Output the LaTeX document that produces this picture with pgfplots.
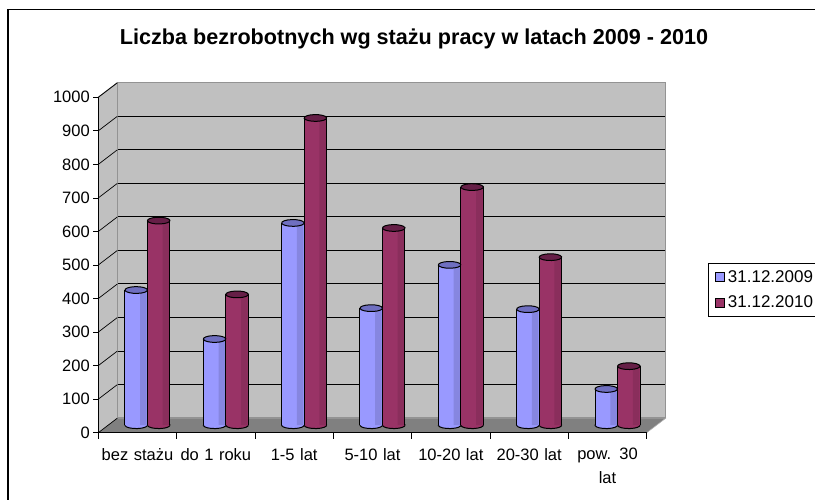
\documentclass[border=0pt]{standalone}
\usepackage{fontspec}
\setmainfont{Liberation Sans}
\usepackage{pgfplots}
\usepackage{pgfplotstable}
\pgfplotsset{compat=1.18}

\definecolor{wall}{HTML}{C0C0C0}
\definecolor{floorc}{HTML}{808080}
\definecolor{barblue}{HTML}{9999FF}
\definecolor{stripblue}{HTML}{8686E0}
\definecolor{barred}{HTML}{993366}
\definecolor{stripred}{HTML}{8A2E5C}
\definecolor{topblue}{HTML}{6F6FC0}
\definecolor{topred}{HTML}{661F47}

\pgfplotstableread{
x    y2009 y2010
0.5  403   610
1.5  257   390
2.5  603   916
3.5  349   588
4.5  478   710
5.5  346   501
6.5  108   176
}\bars

\tikzset{capshape/.style={draw=black, yscale=0.3, rotate=6, line width=1pt}}

\pgfplotsset{
  plane/.style={
    anchor=south west, scale only axis,
    width=548.4pt, height=335.4pt,
    xmin=0, xmax=7, ymin=0, ymax=1000,
  },
  depth/.style={forget plot, xshift=10pt, yshift=7.5pt},
  cyl/.style={depth, ybar, bar width=#1, draw=none},
  side/.style={depth, ycomb, no marks, draw=black, line width=1pt},
  cap/.style={depth, only marks, mark=*, mark size=11.25pt},
}

\begin{document}
\begin{tikzpicture}[x=1pt, y=1pt]
\useasboundingbox (0,0) rectangle (815,500);
\clip (0,0) rectangle (815,500);

% outer frame, runs off the right and bottom
\draw[black, line width=1.2pt] (8,-5) -- (8,490.5) -- (820,490.5);

\node[font=\bfseries\fontsize{21.6}{24}\selectfont] at (414,461.5) {Liczba bezrobotnych wg stażu pracy w latach 2009 - 2010};

% side wall and floor
\fill[wall] (98.3,67.3) -- (117.3,82) -- (117.3,417.2) -- (98.3,402.7) -- cycle;
\fill[floorc] (98.3,67.3) -- (117.3,82) -- (666,82) -- (646.7,67.3) -- cycle;

% back wall
\begin{axis}[plane, at={(117.3pt,82pt)},
    axis background/.style={fill=wall},
    axis line style={draw=floorc!85!white, line width=1.2pt},
    xtick=\empty, ytick={100,200,...,900}, yticklabels={},
    major tick length=0pt,
    ymajorgrids, grid style={black, line width=0.7pt},
]
\end{axis}

\draw[floorc, line width=1pt] (98.3,402.7) -- (117.3,417.2);
\draw[white!70!black, line width=0.6pt] (646.7,67.3) -- (666,82);

% rounded feet of the cylinders, behind the front plane
\begin{axis}[plane, at={(98.3pt,67.3pt)}, hide axis, clip=false]
\addplot[cap, xshift=-11.25pt, mark options={capshape, fill=barblue}] table[x=x, y expr=0] {\bars};
\addplot[cap, xshift=11.25pt, mark options={capshape, fill=barred}] table[x=x, y expr=0] {\bars};
\end{axis}

% front plane: axes, labels and bars
\begin{axis}[plane, at={(98.3pt,67.3pt)},
    clip=false,
    axis x line*=bottom, axis y line*=left,
    axis line style={line width=1pt, -},
    ytick={0,100,...,1000},
    xtick={0.5,1.5,...,6.5},
    xticklabels={bez stażu, do 1 roku, 1-5 lat, 5-10 lat, 10-20 lat, 20-30 lat, pow. 30\\lat},
    minor xtick={0,1,...,7},
    major x tick style={draw=none},
    minor tick length=6pt,
    minor x tick style={black, line width=0.7pt},
    major y tick style={black, line width=0.7pt},
    major tick length=5pt,
    tick align=outside,
    /pgf/number format/assume math mode=true,
    /pgf/number format/1000 sep={},
    tick label style={font=\fontsize{16.5}{24}\selectfont},
    xticklabel style={align=center, text width=78pt, yshift=-7pt},
    legend style={at={(1.111,0.506)}, anchor=north west, draw=black, line width=0.8pt,
      font=\fontsize{17}{20}\selectfont, inner xsep=3pt, inner ysep=5pt, row sep=8pt, cells={anchor=west},
      legend cell align=left},
]
% diagonals from the y ticks to the back wall
\pgfplotsinvokeforeach{0,100,...,1000}{
  \draw[black, line width=0.7pt] (axis cs:0,#1) -- ++(19pt,14.5pt);
}

\addplot[cyl=22.5pt, bar shift=-11.25pt, fill=barblue] table[x=x, y=y2009] {\bars};
\addplot[cyl=6.5pt, bar shift=-4pt, fill=stripblue] table[x=x, y=y2009] {\bars};
\addplot[side, xshift=-22.5pt] table[x=x, y=y2009] {\bars};
\addplot[cyl=22.5pt, bar shift=11.25pt, fill=barred] table[x=x, y=y2010] {\bars};
\addplot[cyl=6.5pt, bar shift=18.5pt, fill=stripred] table[x=x, y=y2010] {\bars};
\addplot[side] table[x=x, y=y2009] {\bars};
\addplot[side] table[x=x, y=y2010] {\bars};
\addplot[side, xshift=22.5pt] table[x=x, y=y2010] {\bars};
\addplot[cap, xshift=-11.25pt, mark options={capshape, fill=topblue}] table[x=x, y=y2009] {\bars};
\addplot[cap, xshift=11.25pt, mark options={capshape, fill=topred}] table[x=x, y=y2010] {\bars};

\addlegendimage{legend image code/.code={\path[draw=none] (-4pt,0) -- (11pt,0); \draw[draw=black, fill=barblue, line width=0.8pt] (0pt,-4.5pt) rectangle (9pt,4.5pt);}}
\addlegendentry{31.12.2009}
\addlegendimage{legend image code/.code={\path[draw=none] (-4pt,0) -- (11pt,0); \draw[draw=black, fill=barred, line width=0.8pt] (0pt,-4.5pt) rectangle (9pt,4.5pt);}}
\addlegendentry{31.12.2010}
\end{axis}
\end{tikzpicture}
\end{document}
